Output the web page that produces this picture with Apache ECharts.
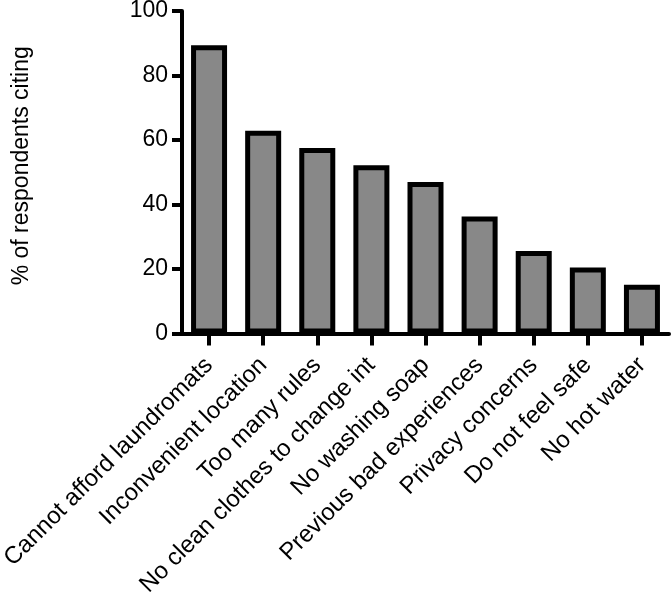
<!DOCTYPE html>
<html>
<head>
<meta charset="utf-8">
<script src="https://cdn.jsdelivr.net/npm/echarts@6/dist/echarts.min.js"></script>
<style>
html,body{margin:0;padding:0;background:#fff;}
#chart{width:672px;height:599px;}
</style>
</head>
<body>
<div id="chart"></div>
<script>
const categories = [
  "Cannot afford laundromats",
  "Inconvenient location",
  "Too many rules",
  "No clean clothes to change int",
  "No washing soap",
  "Previous bad experiences",
  "Privacy concerns",
  "Do not feel safe",
  "No hot water"
];
const values = [89.4, 62.9, 57.5, 52.2, 47.0, 36.3, 25.6, 20.5, 15.1];
const yTicks = { min: 0, max: 100, interval: 20 };
const yName = "% of respondents citing";

const font = "'Liberation Sans', Arial, sans-serif";
const chart = echarts.init(document.getElementById('chart'), null, { renderer: 'canvas' });
chart.setOption({
  backgroundColor: '#ffffff',
  animation: false,
  grid: { left: 182, right: 3, top: 11, bottom: 265.5, containLabel: false, outerBoundsMode: 'none' },
  xAxis: {
    type: 'category',
    data: categories,
    axisLine: { show: true, lineStyle: { color: '#000', width: 4 } },
    axisTick: { show: true, alignWithLabel: true, length: 12, lineStyle: { color: '#000', width: 4 } },
    axisLabel: { rotate: 45, interval: 0, margin: 28, color: '#000', fontSize: 24, fontFamily: font },
    splitLine: { show: false }
  },
  yAxis: {
    type: 'value',
    min: yTicks.min, max: yTicks.max, interval: yTicks.interval,
    name: yName,
    nameLocation: 'middle',
    nameGap: 149,
    nameRotate: 90,
    nameTextStyle: { color: '#000', fontSize: 23, fontFamily: font, padding: [0, 0, 0, 13] },
    axisLine: { show: true, lineStyle: { color: '#000', width: 4 } },
    axisTick: { show: true, length: 10, lineStyle: { color: '#000', width: 4 } },
    axisLabel: { margin: 14, color: '#000', fontSize: 23, fontFamily: font },
    splitLine: { show: false }
  },
  series: [{
    type: 'bar',
    data: values,
    barWidth: 36,
    itemStyle: { color: '#888888', borderColor: '#000', borderWidth: 5 }
  }]
});
</script>
</body>
</html>
